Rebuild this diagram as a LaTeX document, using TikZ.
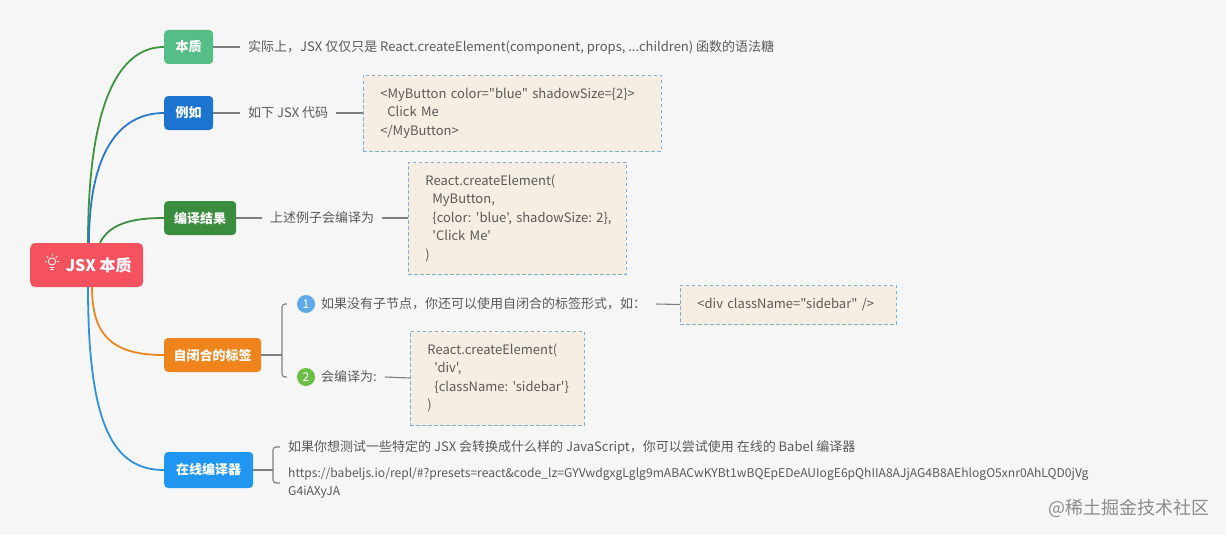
\documentclass[tikz,border=0pt]{standalone}
\usepackage{fontspec}
\setmainfont{Noto Sans CJK SC}[Ligatures=TeXOff]
\usetikzlibrary{calc}
\frenchspacing
\definecolor{bg}{HTML}{F6F6F6}
\definecolor{txt}{HTML}{5A5A5A}
\definecolor{linec}{HTML}{7F7F7F}
\definecolor{boxfill}{HTML}{F7EEE3}
\definecolor{boxline}{HTML}{7DB0DC}
\definecolor{rootc}{HTML}{F5525F}
\definecolor{benzhic}{HTML}{55BE86}
\definecolor{liruc}{HTML}{1D74D0}
\definecolor{bianyic}{HTML}{3A8D3F}
\definecolor{zibihec}{HTML}{F0841C}
\definecolor{zaixianc}{HTML}{2196F0}
\definecolor{curveg}{HTML}{3C963F}
\definecolor{curveb}{HTML}{2A79C8}
\definecolor{curvelb}{HTML}{2E92D8}
\definecolor{numb}{HTML}{5DA9E9}
\definecolor{numg}{HTML}{6CBF45}
\definecolor{wmark}{HTML}{8C8C8C}
\newcommand{\codeline}[1]{\mbox{#1}}
\newcommand{\cind}{\hspace*{7pt}}
\tikzset{
  branch/.style={rounded corners=4pt, text=white, font=\bfseries\fontsize{13}{15}\selectfont, minimum height=34pt, inner sep=0pt, anchor=west},
  leaf/.style={text=txt, font=\fontsize{13}{16}\selectfont, inner xsep=8pt, inner ysep=2pt, anchor=west},
  codebox/.style={draw=boxline, dash pattern=on 3.5pt off 2.5pt, line width=0.8pt, fill=boxfill, text=txt, font=\fontsize{13}{18.5}\selectfont, align=left, inner xsep=17pt, inner ysep=0pt, anchor=west},
  link/.style={draw=linec, line width=1.1pt},
  curve/.style={line width=1.8pt},
  num/.style={circle, inner sep=0pt, minimum size=18pt, text=white, font=\fontsize{12}{12}\selectfont},
  bulb/.style={draw=white, line width=0.8pt, line cap=round},
}
\begin{document}
\begin{tikzpicture}[x=1pt,y=-1pt]
\useasboundingbox (0,0) rectangle (1226,535);
\fill[bg] (0,0) rectangle (1226,535);

% root
\node[rounded corners=5pt, fill=rootc, text=white, font=\bfseries\fontsize{16}{18}\selectfont, minimum width=113pt, minimum height=44pt, inner sep=0pt, anchor=west] (root) at (30,265) {\hspace*{24pt}JSX 本质};
\coordinate (bc) at ($(root.west)+(22,-3.5)$);
\draw[bulb] (bc) circle (3.6);
\draw[bulb] ($(bc)+(-2,6)$) -- ($(bc)+(2,6)$);
\draw[bulb] ($(bc)+(-1.5,8)$) -- ($(bc)+(1.5,8)$);
\draw[bulb] ($(bc)+(0,-5.5)$) -- ($(bc)+(0,-7)$);
\draw[bulb] ($(bc)+(5.5,0)$) -- ($(bc)+(7,0)$);
\draw[bulb] ($(bc)+(-5.5,0)$) -- ($(bc)+(-7,0)$);
\draw[bulb] ($(bc)+(4,-4)$) -- ($(bc)+(5,-5)$);
\draw[bulb] ($(bc)+(-4,-4)$) -- ($(bc)+(-5,-5)$);

% branches
\node[branch, fill=benzhic, minimum width=49pt] (benzhi) at (164,47) {本质};
\node[branch, fill=liruc, minimum width=49pt] (liru) at (164,113) {例如};
\node[branch, fill=bianyic, minimum width=72pt] (bianyi) at (164,218) {编译结果};
\node[branch, fill=zibihec, minimum width=97pt] (zibihe) at (164,355) {自闭合的标签};
\node[branch, fill=zaixianc, minimum width=89pt, minimum height=36pt] (zaixian) at (164,470) {在线编译器};

% curves from root
\draw[curve, curveg] ([xshift=58pt]root.north west) .. controls +(0,-140) and +(-45,0) .. (benzhi.west);
\draw[curve, curveb] ([xshift=59pt]root.north west) .. controls +(0,-90) and +(-45,0) .. (liru.west);
\draw[curve, bianyic] ([xshift=70pt]root.north west) .. controls +(10,-20) and +(-30,0) .. (bianyi.west);
\draw[curve, zibihec] ([xshift=62pt]root.south west) .. controls +(0,50) and +(-50,0) .. (zibihe.west);
\draw[curve, curvelb] ([xshift=58pt]root.south west) .. controls +(0,140) and +(-50,0) .. (zaixian.west);

% leaf 1
\node[leaf] (l1) at (240,47) {实际上，JSX 仅仅只是 React.createElement(component, props, ...children) 函数的语法糖};
\draw[link] (benzhi.east) -- (l1.west);

% leaf 2
\node[leaf] (l2) at (240,113) {如下 JSX 代码};
\node[codebox, text width=264pt, minimum height=76pt] (box1) at (363,113) {\codeline{<MyButton color="blue" shadowSize=\{2\}>}\\\codeline{\cind Click Me}\\\codeline{</MyButton>}};
\draw[link] (liru.east) -- (l2.west);
\draw[link] (l2.east) -- (box1.west);

% leaf 3
\node[leaf] (l3) at (262,218) {上述例子会编译为};
\node[codebox, text width=184pt, minimum height=112pt] (box2) at (408,218) {\codeline{React.createElement(}\\\codeline{\cind MyButton,}\\\codeline{\cind\{color: 'blue', shadowSize: 2\},}\\\codeline{\cind'Click Me'}\\\codeline{)}};
\draw[link] (bianyi.east) -- (l3.west);
\draw[link] (l3.east) -- (box2.west);

% self-closing
\coordinate (b1) at (282,355);
\node[num, fill=numb] (c1) at (306,304) {1};
\node[num, fill=numg] (c2) at (306,377) {2};
\node[leaf] (t1) at (313,304) {如果没有子节点，你还可以使用自闭合的标签形式，如：};
\node[leaf] (t2) at (313,377) {会编译为:};
\node[codebox, text width=182pt, minimum height=39pt] (box3) at (680,304.5) {\codeline{<div className="sidebar" />}};
\node[codebox, text width=140pt, minimum height=94pt] (box4) at (410,378) {\codeline{React.createElement(}\\\codeline{\cind'div',}\\\codeline{\cind\{className: 'sidebar'\}}\\\codeline{)}};
\draw[link] (zibihe.east) -- (b1);
\draw[link, rounded corners=3pt, shorten <=10pt, shorten >=10pt] (c1.west) -| (b1) |- (c2.west);
\draw[link] ([xshift=2pt]t1.east) -- (box3.west);
\draw[link] (t2.east) -- (box4.west);

% online compiler
\coordinate (b2) at (273,470);
\node[leaf] (t5) at (280,447) {如果你想测试一些特定的 JSX 会转换成什么样的 JavaScript，你可以尝试使用 在线的 Babel 编译器};
\node[leaf, align=left, font=\fontsize{12.1}{18}\selectfont] (url) at (280,483) {https://babeljs.io/repl/\#?presets=react\&code\_lz=GYVwdgxgLglg9mABACwKYBt1wBQEpEDeAUIogE6pQhIIA8AJjAG4B8AEhlogO5xnr0AhLQD0jVg\\G4iAXyJA};
\draw[link] (zaixian.east) -- (b2);
\draw[link, rounded corners=3pt] (t5.west) -| (b2) |- (url.west);

% watermark
\node[text=wmark, font=\fontsize{18}{20}\selectfont, inner sep=0pt] (wm) at (1129,508) {@稀土掘金技术社区};
\end{tikzpicture}
\end{document}
